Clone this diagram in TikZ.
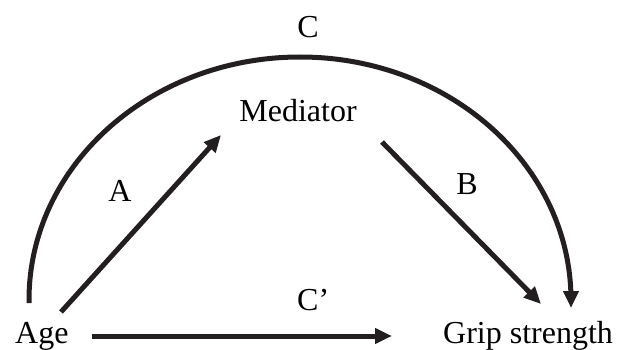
\documentclass[tikz,border=0pt]{standalone}
\usepackage{fontspec}
\setmainfont{Liberation Serif}
\usetikzlibrary{arrows.meta}
\definecolor{ink}{HTML}{231F20}
\begin{document}
\begin{tikzpicture}[x=1pt,y=1pt,
  lbl/.style={inner sep=0pt,font=\fontsize{32}{36}\selectfont,text=black},
  conn/.style={line width=5pt,draw=ink,-{Triangle[length=17pt,width=15pt]}}]
\useasboundingbox (0,0) rectangle (625,349);
% text nodes
\node[lbl,anchor=base west] (age) at (15,6) {Age};
\node[lbl,anchor=base west] (grip) at (443,6) {Grip strength};
\node[lbl,anchor=base] (med) at (298,228) {Mediator};
\node[lbl,anchor=base] (lc) at (308,311) {C};
\node[lbl,anchor=base] (la) at (120,148) {A};
\node[lbl,anchor=base] (lb) at (467,154) {B};
\node[lbl,anchor=base west] (lcp) at (297,39) {C’};
% connector ends
\coordinate (aS) at (61,37);
\coordinate (aE) at (221,214);
\coordinate (bS) at (382,207);
\coordinate (bE) at (541,45);
\coordinate (cpS) at (92,13);
\coordinate (cpE) at (392,13);
\coordinate (cS) at (29,46);
\coordinate (cE) at (571,41);
% connectors
\draw[conn] (aS) -- (aE);
\draw[conn] (bS) -- (bE);
\draw[conn] (cpS) -- (cpE);
\draw[conn] (cS) -- ++(0,3) arc[start angle=180,end angle=0,x radius=271,y radius=243] -- (cE);
\end{tikzpicture}
\end{document}
